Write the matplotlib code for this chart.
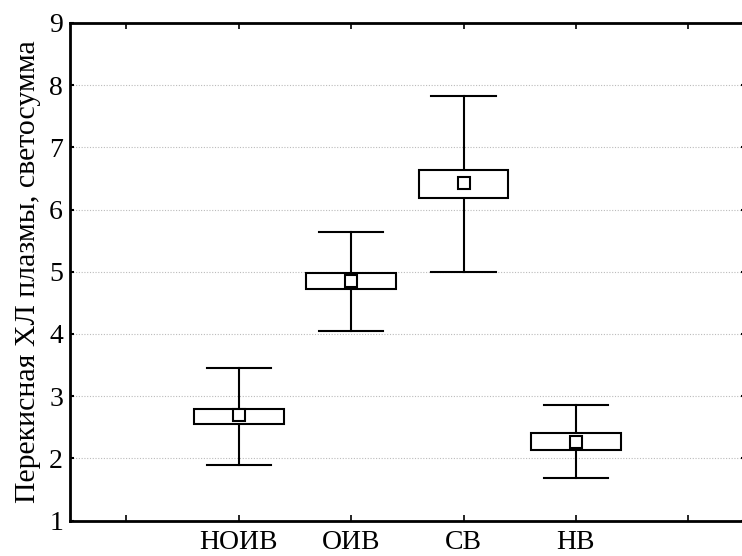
import matplotlib
matplotlib.use("Agg")
import matplotlib.pyplot as plt
from matplotlib.patches import Rectangle

categories = ["НОИВ", "ОИВ", "СВ", "НВ"]
means = [2.69, 4.85, 6.42, 2.27]
box_low = [2.55, 4.72, 6.18, 2.14]
box_high = [2.80, 4.98, 6.63, 2.40]
whisk_low = [1.89, 4.05, 5.00, 1.69]
whisk_high = [3.46, 5.64, 7.82, 2.86]
positions = [1, 2, 3, 4]
ylabel = "Перекисная ХЛ плазмы, светосумма"

plt.rcParams['font.family'] = ['Liberation Serif', 'DejaVu Serif']

fig = plt.figure(figsize=(7.42, 5.56), dpi=100)
W, H = 742, 556
ax = fig.add_axes([70 / W, 1 - 520.5 / H, (744.6 - 70) / W, (520.5 - 23) / H])

box_w = 0.8
cap_w = 0.57
lw = 1.5
for x, m, bl, bh, wl, wh in zip(positions, means, box_low, box_high, whisk_low, whisk_high):
    ax.plot([x, x], [wl, bl], color='black', lw=lw, zorder=3)
    ax.plot([x, x], [bh, wh], color='black', lw=lw, zorder=3)
    ax.plot([x - cap_w / 2, x + cap_w / 2], [wl, wl], color='black', lw=lw, zorder=3)
    ax.plot([x - cap_w / 2, x + cap_w / 2], [wh, wh], color='black', lw=lw, zorder=3)
    ax.add_patch(Rectangle((x - box_w / 2, bl), box_w, bh - bl, facecolor='white',
                           edgecolor='black', lw=lw, zorder=3))
    ax.plot([x], [m], marker='s', markersize=8, markerfacecolor='white',
            markeredgecolor='black', markeredgewidth=1.5, zorder=4)

ax.set_xlim(-0.5, 5.5)
ax.set_ylim(1, 9)
ax.set_xticks([0, 1, 2, 3, 4, 5])
ax.set_xticklabels([""] + categories + [""], fontsize=20)
ax.set_yticks(range(1, 10))
ax.tick_params(axis='y', labelsize=20, direction='in', length=3, width=1.5,
               left=True, right=True, pad=5)
ax.tick_params(axis='x', direction='in', length=4, width=1.2, top=True, bottom=True, pad=7)
ax.yaxis.grid(True, linestyle=(0, (1, 1.5)), color='#bbbbbb', lw=0.8)
ax.set_axisbelow(True)
for s in ax.spines.values():
    s.set_linewidth(2)
ax.spines['right'].set_visible(False)
ax.set_ylabel(ylabel, fontsize=21.5, labelpad=6)

fig.savefig("out.png", dpi=100)
